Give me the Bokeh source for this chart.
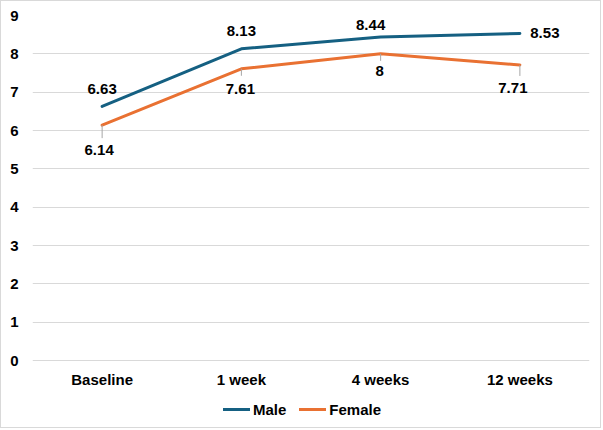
from bokeh.plotting import figure
from bokeh.models import (ColumnDataSource, FactorRange, Range1d, FixedTicker,
                          Legend, LegendItem)
from bokeh.embed import file_html
from bokeh.resources import INLINE
from bokeh.core.properties import value

# ---- data ----
categories = ["Baseline", "1 week", "4 weeks", "12 weeks"]
male = [6.63, 8.13, 8.44, 8.53]
female = [6.14, 7.61, 8.00, 7.71]
y_ticks = [0, 1, 2, 3, 4, 5, 6, 7, 8, 9]

# ---- label placement (pixels) ----
male_dx = [0, 0, -10, 25]
male_dy = [-17, -18, -12, -1]
female_dx = [-3, -1, -1, -7]
female_dy = [25, 20, 17, 23]
female_leader_px = [13, 7, 7, 11]
cat_label_dy = 18.7

MALE_COLOR = "#156082"
FEMALE_COLOR = "#E97132"
GRID = "#d9d9d9"
FONT = "Liberation Sans"
FS = "15px"

W, H = 601, 428
TOP, LEFT, RIGHT = 14, 31, 13
GRID_SPAN_PX = 345.0          # pixel distance between the lowest and highest gridline
y_lo, y_hi = y_ticks[0], y_ticks[-1]
px_per_unit = GRID_SPAN_PX / (y_hi - y_lo)
y_bottom = y_hi - (H - TOP) / px_per_unit   # frame extends down to hold labels + legend

p = figure(width=W, height=H,
           x_range=FactorRange(*categories, range_padding=0),
           y_range=Range1d(y_bottom, y_hi),
           output_backend="svg", toolbar_location=None,
           min_border_left=LEFT, min_border_right=RIGHT,
           min_border_top=TOP, min_border_bottom=0)
p.styles = {"border": "1px solid #d9d9d9"}
p.outline_line_color = None
p.background_fill_color = "white"
p.border_fill_color = "white"

# y axis
ya = p.yaxis[0]
ya.axis_line_color = None
ya.major_tick_line_color = None
ya.minor_tick_line_color = None
ya.major_tick_out = 0
ya.major_tick_in = 0
ya.major_label_text_font = FONT
ya.major_label_text_font_style = "bold"
ya.major_label_text_font_size = FS
ya.major_label_text_color = "black"
ya.major_label_standoff = 14
ya.ticker = FixedTicker(ticks=y_ticks)
p.ygrid.ticker = FixedTicker(ticks=y_ticks)
p.ygrid.grid_line_color = GRID
p.ygrid.grid_line_width = 1
p.xgrid.grid_line_color = None
p.xaxis.visible = False

# category labels (drawn under the 0 gridline)
p.text(x=categories, y=[y_lo] * len(categories), text=categories,
       y_offset=cat_label_dy, text_align="center", text_baseline="middle",
       text_font=value(FONT), text_font_style="bold", text_font_size=FS,
       text_color="black")

# lines
rm = p.line(x=categories, y=male, line_color=MALE_COLOR, line_width=3,
            line_join="round", line_cap="round")
rf = p.line(x=categories, y=female, line_color=FEMALE_COLOR, line_width=3,
            line_join="round", line_cap="round")

# leader lines for female labels
lead_y1 = [v - d / px_per_unit for v, d in zip(female, female_leader_px)]
p.segment(x0=categories, y0=female, x1=categories, y1=lead_y1,
          line_color="#a6a6a6", line_width=1)

def fmt(v):
    return f"{v:g}"

msrc = ColumnDataSource(dict(x=categories, y=male, t=[fmt(v) for v in male],
                             dx=male_dx, dy=male_dy))
fsrc = ColumnDataSource(dict(x=categories, y=female, t=[fmt(v) for v in female],
                             dx=female_dx, dy=female_dy))
for src in (msrc, fsrc):
    p.text(x="x", y="y", text="t", x_offset="dx", y_offset="dy",
           text_align="center", text_baseline="middle",
           text_font=value(FONT), text_font_style="bold",
           text_font_size=FS, text_color="black", source=src)

legend = Legend(items=[LegendItem(label="Male", renderers=[rm]),
                       LegendItem(label="Female", renderers=[rf])],
                orientation="horizontal", location=(191, 10),
                glyph_width=27, glyph_height=20, label_standoff=3,
                spacing=13, padding=0, margin=0,
                border_line_color=None, background_fill_alpha=0,
                label_text_font=FONT, label_text_font_style="bold",
                label_text_font_size=FS, label_text_color="black")
p.add_layout(legend, "center")

open("out.html", "w").write(file_html(p, INLINE))
